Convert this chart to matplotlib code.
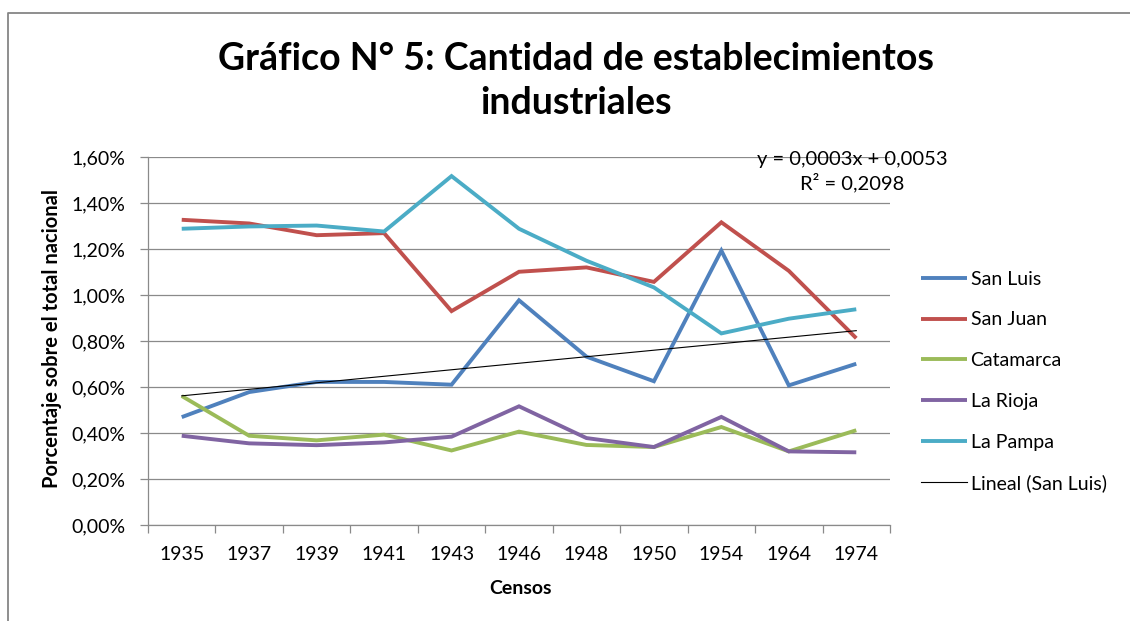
import matplotlib
matplotlib.use('Agg')
import matplotlib.pyplot as plt
import numpy as np
from matplotlib.lines import Line2D
from matplotlib.ticker import FixedLocator, FuncFormatter

# ---- data (percent of national total) ----
censos = ['1935', '1937', '1939', '1941', '1943', '1946', '1948', '1950', '1954', '1964', '1974']
san_luis = [0.469, 0.578, 0.622, 0.622, 0.610, 0.977, 0.732, 0.625, 1.193, 0.607, 0.701]
san_juan = [1.327, 1.311, 1.260, 1.269, 0.930, 1.101, 1.120, 1.057, 1.316, 1.105, 0.812]
catamarca = [0.561, 0.388, 0.368, 0.393, 0.324, 0.406, 0.348, 0.339, 0.426, 0.320, 0.412]
la_rioja = [0.388, 0.355, 0.347, 0.359, 0.384, 0.516, 0.378, 0.339, 0.470, 0.320, 0.316]
la_pampa = [1.288, 1.298, 1.302, 1.276, 1.517, 1.288, 1.149, 1.033, 0.833, 0.897, 0.938]
series_names = ['San Luis', 'San Juan', 'Catamarca', 'La Rioja', 'La Pampa']
y_ticks = [0.0, 0.2, 0.4, 0.6, 0.8, 1.0, 1.2, 1.4, 1.6]
trend_label = 'Lineal (San Luis)'
eq_text = 'y = 0,0003x + 0,0053'
r2_text = 'R² = 0,2098'
title_l1 = 'Gráfico N° 5: Cantidad de establecimientos'
title_l2 = 'industriales'
x_label = 'Censos'
y_label = 'Porcentaje sobre el total nacional'

colors = ['#4F81BD', '#C0504D', '#9BBB59', '#8064A2', '#4BACC6']

plt.rcParams['font.family'] = ['Lato', 'DejaVu Sans']

W, H = 1130, 621
fig = plt.figure(figsize=(W / 100, H / 100), dpi=100)
fig.patch.set_facecolor('white')

def fx(px):
    return px / W

def fy(py):
    return 1 - py / H

ax = fig.add_axes([fx(148), fy(525), fx(890) - fx(148), fy(157) - fy(525)])

x = np.arange(len(censos))
all_series = [san_luis, san_juan, catamarca, la_rioja, la_pampa]
handles = []
for vals, name, c in zip(all_series, series_names, colors):
    h, = ax.plot(x, vals, color=c, lw=2.8, solid_joinstyle='miter', solid_capstyle='butt', label=name, zorder=3)
    handles.append(h)

# linear trend of San Luis
xt = x + 1
coef = np.polyfit(xt, np.array(san_luis), 1)
trend = np.polyval(coef, xt)
ht, = ax.plot(x, trend, color='black', lw=0.8, label=trend_label, zorder=4)
handles.append(ht)

ax.set_xlim(-0.5, len(censos) - 0.5)
ax.set_ylim(0, 1.6)

ax.yaxis.set_major_locator(FixedLocator(y_ticks))
ax.yaxis.set_major_formatter(FuncFormatter(lambda v, p: ('%.2f' % v).replace('.', ',') + '%'))
ax.grid(axis='y', color='#8a8a8a', lw=0.9)
ax.set_axisbelow(True)

ax.xaxis.set_major_locator(FixedLocator(np.arange(-0.5, len(censos), 1.0)))
ax.xaxis.set_major_formatter(FuncFormatter(lambda v, p: ''))
ax.xaxis.set_minor_locator(FixedLocator(x))
ax.set_xticklabels(censos, minor=True)
ax.tick_params(axis='x', which='major', length=6, color='#8a8a8a', width=0.9)
ax.tick_params(axis='x', which='minor', length=0, pad=15, labelsize=14, labelcolor='#000000')
ax.tick_params(axis='y', which='major', length=6, color='#8a8a8a', width=0.9, pad=10, labelsize=14)

for s in ['top', 'right']:
    ax.spines[s].set_visible(False)
for s in ['left', 'bottom']:
    ax.spines[s].set_color('#8a8a8a')
    ax.spines[s].set_linewidth(0.9)

# equation text
fig.text(fx(852), fy(165), eq_text, ha='center', va='baseline', fontsize=14.5)
fig.text(fx(852), fy(189), r2_text, ha='center', va='baseline', fontsize=14.5)

# title
fig.text(fx(576), fy(70), title_l1, ha='center', va='baseline', fontsize=27, fontweight='bold')
fig.text(fx(576), fy(114), title_l2, ha='center', va='baseline', fontsize=27, fontweight='bold')

# axis labels
fig.text(fx(520), fy(588), x_label, ha='center', va='center', fontsize=14, fontweight='bold')
fig.text(fx(52), fy(339), y_label, ha='center', va='center', rotation=90, fontsize=14.5, fontweight='bold')

# legend
leg = fig.legend(handles=handles, labels=[h.get_label() for h in handles],
                 loc='center left', bbox_to_anchor=(fx(921), fy(381.5)),
                 frameon=False, fontsize=14, handlelength=2.35, handletextpad=0.2,
                 labelspacing=1.22, borderpad=0, borderaxespad=0)

# chart border (top & left)
fig.add_artist(Line2D([fx(8), fx(8), 1.0], [0.0, fy(13), fy(13)], transform=fig.transFigure,
                      color='#868686', lw=1.3))

fig.savefig('out.png', dpi=100)
